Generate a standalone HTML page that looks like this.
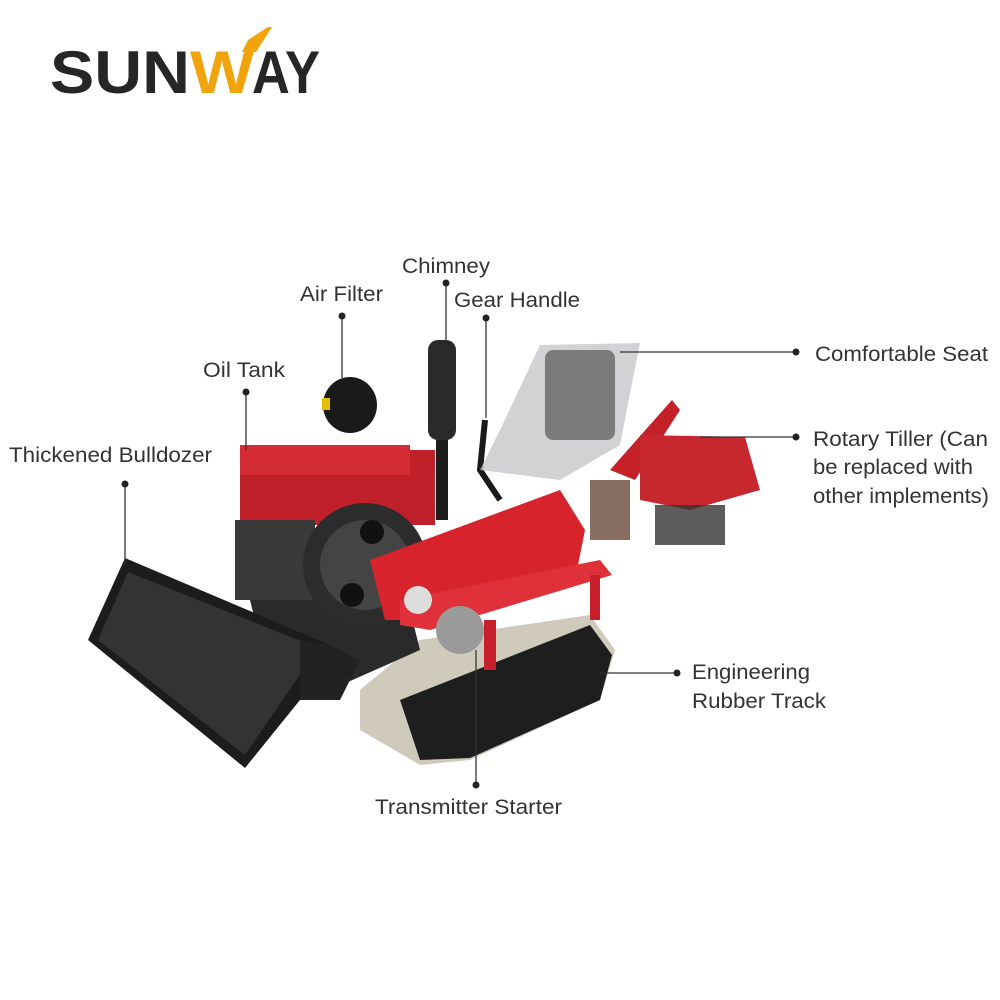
<!DOCTYPE html>
<html><head><meta charset="utf-8"><style>
html,body{margin:0;padding:0;background:#fff;}
body{width:1000px;height:1000px;position:relative;overflow:hidden;font-family:"Liberation Sans",sans-serif;}
svg{position:absolute;left:0;top:0;}
</style></head><body>
<svg width="1000" height="1000" viewBox="0 0 1000 1000" xmlns="http://www.w3.org/2000/svg">
<!-- logo -->
<g font-family="Liberation Sans" font-weight="bold" font-size="60">
<text x="50" y="93" fill="#262626" textLength="140" lengthAdjust="spacingAndGlyphs">SUN</text>
<text x="190" y="93" fill="#f0a30a" textLength="64" lengthAdjust="spacingAndGlyphs">W</text>
<text x="252" y="93" fill="#262626" textLength="68" lengthAdjust="spacingAndGlyphs">AY</text>
</g>
<polygon points="248,40 268,27 272,27 256,52 242,52" fill="#f0a30a"/>

<!-- machine -->
<polygon points="360,690 420,640 590,615 615,650 600,700 470,760 420,765 360,730" fill="#cfcabc"/>
<polygon points="400,700 590,625 612,655 600,700 470,758 420,760" fill="#1e1e1e"/>
<polygon points="250,600 400,570 420,650 330,690 260,640" fill="#2a2a2a"/>
<rect x="240" y="450" width="195" height="75" fill="#c0202a"/>
<rect x="240" y="445" width="170" height="30" fill="#d42c34"/>
<rect x="235" y="520" width="80" height="80" fill="#3a3a3a"/>
<circle cx="365" cy="565" r="62" fill="#2c2c2c"/>
<circle cx="365" cy="565" r="45" fill="#444"/>
<circle cx="372" cy="532" r="12" fill="#111"/>
<circle cx="352" cy="595" r="12" fill="#111"/>
<ellipse cx="350" cy="405" rx="27" ry="28" fill="#1a1a1a"/>
<rect x="322" y="398" width="8" height="12" fill="#e6c000"/>
<rect x="428" y="340" width="28" height="100" rx="10" fill="#2a2a2a"/>
<rect x="436" y="440" width="12" height="80" fill="#1c1c1c"/>
<path d="M485 420 L480 470 L500 500" stroke="#1a1a1a" stroke-width="6" fill="none"/>
<polygon points="540,345 640,343 620,445 560,480 480,470 500,430" fill="#c7c7c9" opacity="0.8"/>
<rect x="545" y="350" width="70" height="90" rx="8" fill="#555" opacity="0.7"/>
<polygon points="610,470 672,400 680,410 635,480" fill="#c4202a"/>
<polygon points="640,435 745,437 760,490 690,510 640,500" fill="#c72830"/>
<rect x="655" y="505" width="70" height="40" fill="#333" opacity="0.8"/>
<polygon points="370,560 560,490 585,530 575,580 450,620 385,620" fill="#d6232c"/>
<polygon points="400,600 600,560 612,575 430,630 400,625" fill="#e0313a"/>
<rect x="484" y="620" width="12" height="50" fill="#c8202a"/>
<rect x="590" y="575" width="10" height="45" fill="#c8202a"/>
<circle cx="460" cy="630" r="24" fill="#9a9a9a"/>
<circle cx="418" cy="600" r="14" fill="#ddd"/>
<rect x="590" y="480" width="40" height="60" fill="#6a4a3a" opacity="0.8"/>
<polygon points="88,640 125,558 330,645 300,700 245,768" fill="#1c1c1c"/>
<polygon points="98,640 128,572 318,648 245,755" fill="#333"/>
<polygon points="300,640 330,645 360,660 340,700 300,700" fill="#222"/>

<!-- connectors -->
<g stroke="#333" stroke-width="1.3" fill="#222">
<line x1="446" y1="283" x2="446" y2="340"/><circle cx="446" cy="283" r="3.5" stroke="none"/>
<line x1="342" y1="316" x2="342" y2="378"/><circle cx="342" cy="316" r="3.5" stroke="none"/>
<line x1="486" y1="318" x2="486" y2="418"/><circle cx="486" cy="318" r="3.5" stroke="none"/>
<line x1="246" y1="392" x2="246" y2="450"/><circle cx="246" cy="392" r="3.5" stroke="none"/>
<line x1="125" y1="484" x2="125" y2="565"/><circle cx="125" cy="484" r="3.5" stroke="none"/>
<line x1="796" y1="352" x2="620" y2="352"/><circle cx="796" cy="352" r="3.5" stroke="none"/>
<line x1="796" y1="437" x2="700" y2="437"/><circle cx="796" cy="437" r="3.5" stroke="none"/>
<line x1="677" y1="673" x2="600" y2="673"/><circle cx="677" cy="673" r="3.5" stroke="none"/>
<line x1="476" y1="785" x2="476" y2="650"/><circle cx="476" cy="785" r="3.5" stroke="none"/>
</g>
<g font-family="Liberation Sans" font-size="21" fill="#333" lengthAdjust="spacingAndGlyphs">
<text x="402" y="273" textLength="88" lengthAdjust="spacingAndGlyphs">Chimney</text>
<text x="300" y="301" textLength="83" lengthAdjust="spacingAndGlyphs">Air Filter</text>
<text x="454" y="307" textLength="126" lengthAdjust="spacingAndGlyphs">Gear Handle</text>
<text x="203" y="377" textLength="82" lengthAdjust="spacingAndGlyphs">Oil Tank</text>
<text x="9" y="462" textLength="203" lengthAdjust="spacingAndGlyphs">Thickened Bulldozer</text>
<text x="815" y="361" textLength="173" lengthAdjust="spacingAndGlyphs">Comfortable Seat</text>
<text x="813" y="446" textLength="175" lengthAdjust="spacingAndGlyphs">Rotary Tiller (Can</text>
<text x="813" y="474" textLength="160" lengthAdjust="spacingAndGlyphs">be replaced with</text>
<text x="813" y="503" textLength="176" lengthAdjust="spacingAndGlyphs">other implements)</text>
<text x="692" y="679" textLength="118" lengthAdjust="spacingAndGlyphs">Engineering</text>
<text x="692" y="708" textLength="134" lengthAdjust="spacingAndGlyphs">Rubber Track</text>
<text x="375" y="814" textLength="187" lengthAdjust="spacingAndGlyphs">Transmitter Starter</text>
</g>
</svg>
</body></html>
